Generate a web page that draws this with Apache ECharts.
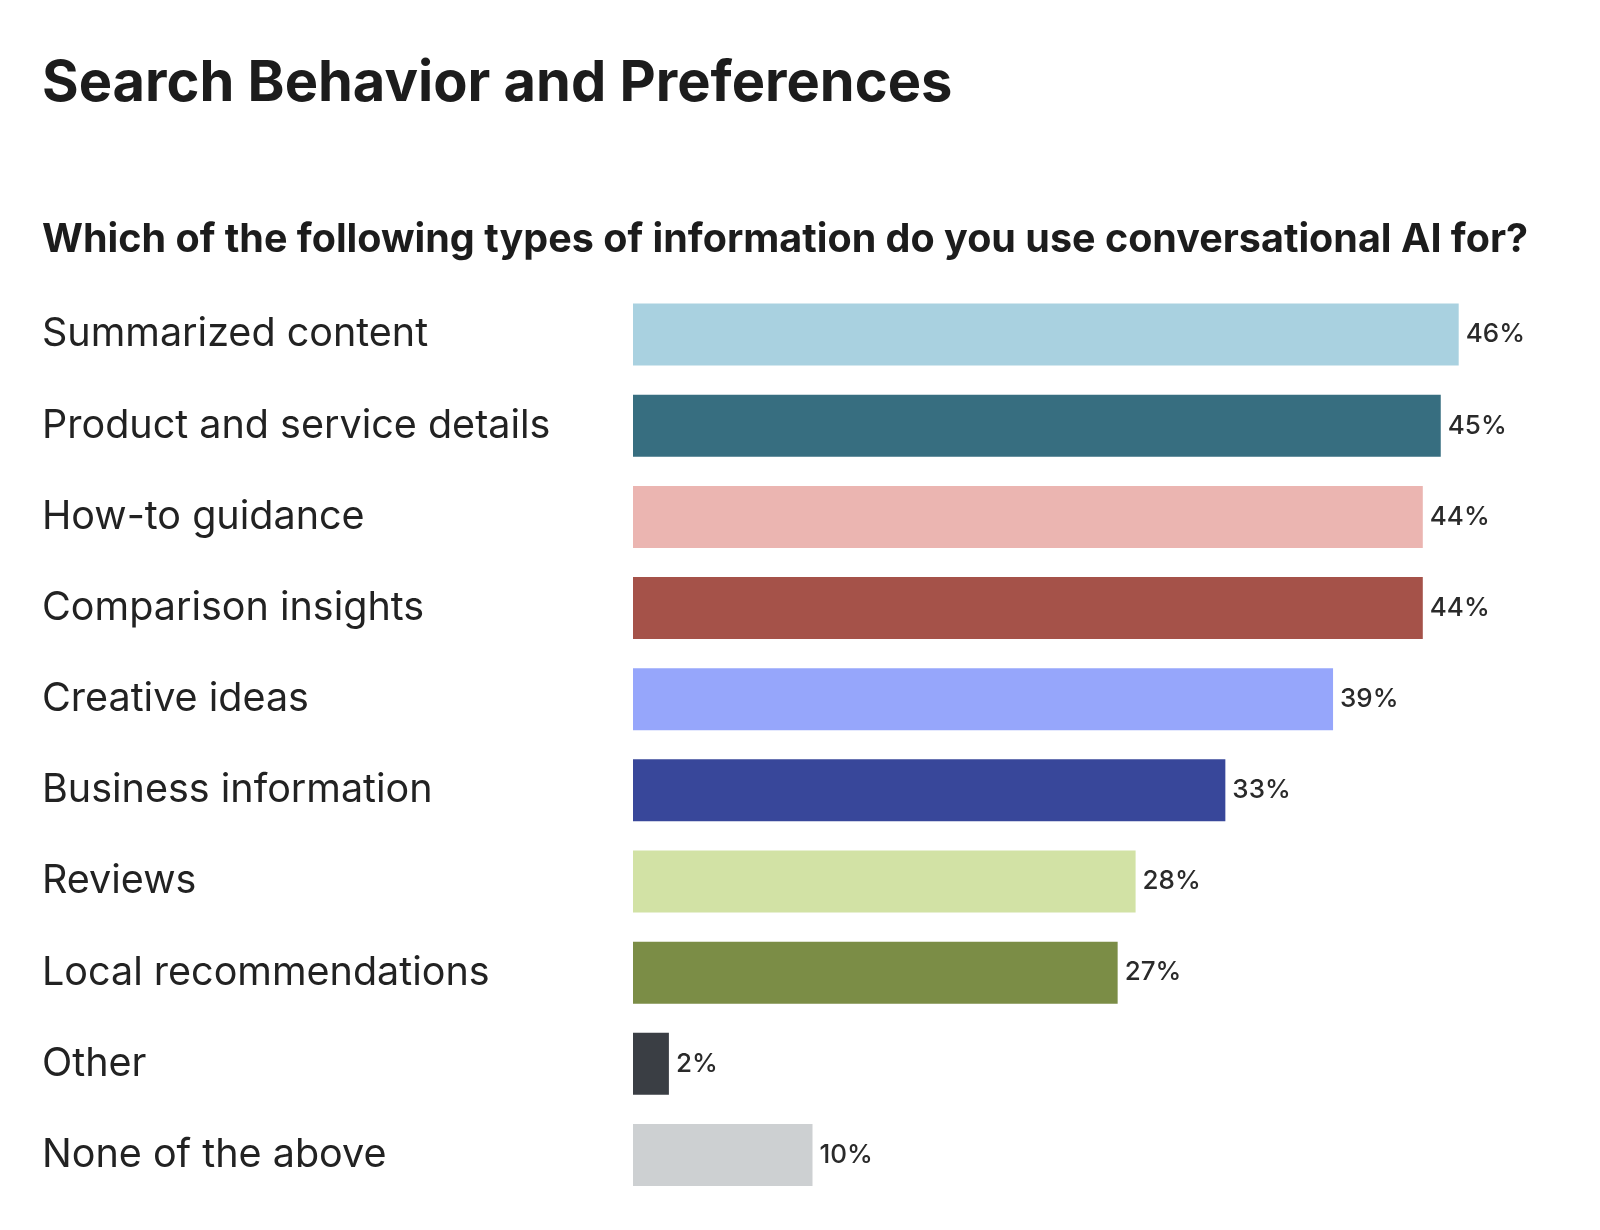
<!DOCTYPE html>
<html>
<head>
<meta charset="utf-8">
<script src="https://cdn.jsdelivr.net/npm/echarts@6/dist/echarts.min.js"></script>
<style>
html,body{margin:0;padding:0;background:#fff;}
#chart{width:1600px;height:1230px;}
</style>
</head>
<body>
<div id="chart"></div>
<script>
const categories = ["Summarized content","Product and service details","How-to guidance","Comparison insights","Creative ideas","Business information","Reviews","Local recommendations","Other","None of the above"];
const values = [46,45,44,44,39,33,28,27,2,10];
const colors = ["#a9d1e0","#376e80","#ebb5b1","#a55249","#96a6fb","#38479a","#d2e2a5","#7b8d46","#3a3e44","#cdd0d2"];
const titleText = "Search Behavior and Preferences";
const subtitleText = "Which of the following types of information do you use conversational AI for?";

const chart = echarts.init(document.getElementById('chart'));
chart.setOption({
  backgroundColor: '#fff',
  animation: false,
  title: [
    {text: titleText, left: 37, top: 51, textStyle: {fontFamily: 'Inter', fontWeight: 'bold', fontSize: 56, color: '#1c1c1c'}},
    {text: subtitleText, left: 37, top: 215, textStyle: {fontFamily: 'Inter', fontWeight: 'bold', fontSize: 39.5, color: '#1c1c1c'}}
  ],
  grid: {left: 633, right: 69.5, top: 289, bottom: 29.5, containLabel: false},
  xAxis: {type: 'value', min: 0, max: 50, show: false},
  yAxis: {
    type: 'category', data: categories, inverse: true,
    axisLine: {show: false}, axisTick: {show: false},
    axisLabel: {margin: 591, align: 'left', fontFamily: 'Inter', fontSize: 39.5, color: '#222'}
  },
  series: [{
    type: 'bar', barWidth: 62,
    data: values.map((v, i) => ({value: v, itemStyle: {color: colors[i]}})),
    label: {show: true, position: 'right', distance: 7, formatter: '{c}%', fontFamily: 'Inter', fontWeight: 500, fontSize: 26, color: '#2a2a2a'}
  }]
});
</script>
</body>
</html>
